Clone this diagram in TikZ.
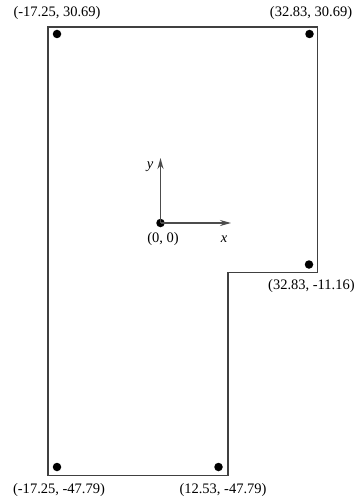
\documentclass[tikz,border=0pt]{standalone}
\usepackage{fontspec}
\setmainfont{Liberation Serif}
\usetikzlibrary{arrows.meta}
\begin{document}
\begin{tikzpicture}[x=1pt,y=-1pt,
  outline/.style={draw=black!75,line width=1.2pt},
  pt/.style={circle,fill=black,inner sep=0pt,minimum size=8.5pt},
  lbl/.style={inner sep=0pt,font=\fontsize{14.5}{16}\selectfont},
  axis/.style={draw=black!70,line width=1.4pt,-{Stealth[length=11pt,width=6pt]}}]
\useasboundingbox (0,0) rectangle (355,500);
\coordinate (c1) at (48,27);
\coordinate (c2) at (317.5,27);
\coordinate (c3) at (317.5,272.5);
\coordinate (c4) at (228,272.5);
\coordinate (c5) at (228,475.5);
\coordinate (c6) at (48,475.5);
\draw[outline] (c1) -- (c2) -- (c3) -- (c4) -- (c5) -- (c6) -- cycle;
\node[pt] (p1) at (57,34) {};
\node[pt] (p2) at (309.5,34) {};
\node[pt] (p3) at (309,264.5) {};
\node[pt] (p4) at (57,467) {};
\node[pt] (p5) at (218.5,467) {};
\node[pt] (o) at (160.5,223) {};
\coordinate (ytip) at (160.5,158);
\coordinate (xtip) at (231,223);
\draw[axis] (o.center) -- (ytip);
\draw[axis] (o.center) -- (xtip);
\node[lbl] (l1) at (57,13) {(-17.25, 30.69)};
\node[lbl] (l2) at (311,13) {(32.83, 30.69)};
\node[lbl,anchor=west] (l3) at (268,286) {(32.83, -11.16)};
\node[lbl] (l4) at (59,490) {(-17.25, -47.79)};
\node[lbl] (l5) at (223,490) {(12.53, -47.79)};
\node[lbl] (lo) at (163,239) {(0, 0)};
\node[lbl] (lx) at (224,239) {\itshape x};
\node[lbl] (ly) at (150,167) {\itshape y};
\end{tikzpicture}
\end{document}
